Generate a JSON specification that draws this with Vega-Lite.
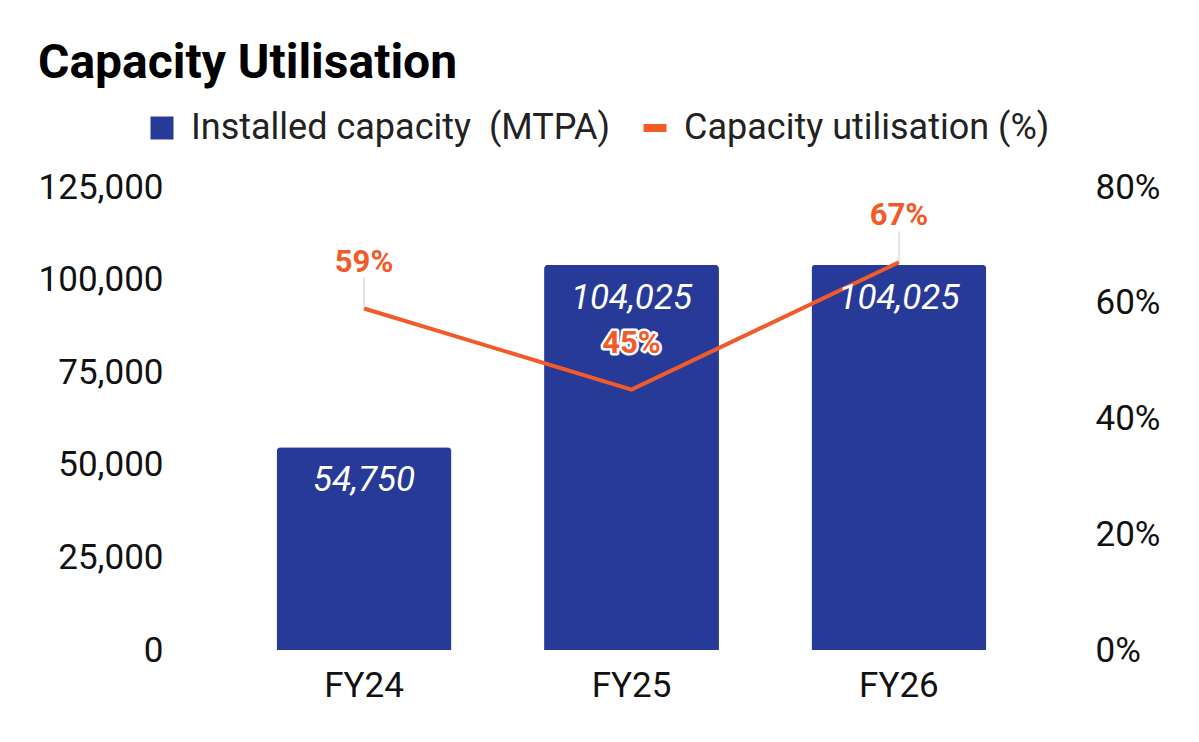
{
  "$schema": "https://vega.github.io/schema/vega-lite/v6.json",
  "width": 913,
  "height": 463,
  "autosize": {"type": "none"},
  "padding": {"left": 175, "top": 187, "right": 111, "bottom": 92},
  "title": {
    "text": "Capacity Utilisation",
    "anchor": "start",
    "frame": "group",
    "dx": -137,
    "offset": 22,
    "font": "Roboto",
    "fontSize": 48,
    "fontWeight": "bold",
    "color": "#000000"
  },
  "data": {
    "values": [
      {"period": "FY24", "capacity": 54750, "util": 0.59},
      {"period": "FY25", "capacity": 104025, "util": 0.45},
      {"period": "FY26", "capacity": 104025, "util": 0.67}
    ]
  },
  "encoding": {
    "x": {
      "field": "period",
      "type": "nominal",
      "sort": null,
      "scale": {"paddingInner": 0.346, "paddingOuter": 0.38},
      "axis": {"title": null, "labelAngle": 0, "labelPadding": 18}
    }
  },
  "layer": [
    {
      "mark": {"type": "rule", "color": "#e4e4e4", "strokeWidth": 2, "y2Offset": -31},
      "encoding": {
        "y": {"field": "util", "type": "quantitative", "scale": {"domain": [0, 0.8], "nice": false}, "axis": null},
        "y2": {"field": "util"}
      }
    },
    {
      "mark": {"type": "bar", "cornerRadiusTopLeft": 4, "cornerRadiusTopRight": 4},
      "encoding": {
        "y": {
          "field": "capacity",
          "type": "quantitative",
          "scale": {"domain": [0, 125000], "nice": false},
          "axis": {"title": null, "values": [0, 25000, 50000, 75000, 100000, 125000], "format": ",.0f", "orient": "left", "labelPadding": 12}
        },
        "color": {
          "datum": "Installed capacity \u00a0(MTPA)",
          "scale": {
            "domain": ["Installed capacity \u00a0(MTPA)", "Capacity utilisation (%)"],
            "range": ["#283a97", "#f15a29"]
          },
          "legend": {
            "title": null,
            "orient": "none",
            "legendX": -31,
            "legendY": -77,
            "direction": "horizontal",
            "symbolType": "square",
            "symbolSize": 529,
            "symbolStrokeWidth": 0,
            "symbolOpacity": 1,
            "labelFont": "Roboto",
            "labelFontSize": 36,
            "labelColor": "#222222",
            "labelOffset": 11,
            "columnPadding": 27,
            "labelLimit": 600,
            "encode": {
              "symbols": {
                "update": {
                  "shape": [
                    {"test": "datum.value === 'Capacity utilisation (%)'", "value": "M-1,-0.35H1V0.35H-1Z"},
                    {"value": "square"}
                  ]
                }
              }
            }
          }
        }
      }
    },
    {
      "mark": {"type": "line", "color": "#f15a29", "strokeWidth": 4},
      "encoding": {
        "y": {
          "field": "util",
          "type": "quantitative",
          "scale": {"domain": [0, 0.8], "nice": false},
          "axis": {"title": null, "values": [0, 0.2, 0.4, 0.6, 0.8], "format": ".0%", "orient": "right", "labelPadding": 7}
        }
      }
    },
    {
      "mark": {"type": "text", "color": "#ffffff", "font": "Roboto", "fontSize": 35, "fontStyle": "italic", "baseline": "middle", "dy": 33},
      "encoding": {
        "y": {"field": "capacity", "type": "quantitative", "scale": {"domain": [0, 125000], "nice": false}, "axis": null},
        "text": {"field": "capacity", "type": "quantitative", "format": ","}
      }
    },
    {
      "mark": {"type": "text", "color": "#ffffff", "stroke": "#ffffff", "strokeWidth": 5, "strokeJoin": "round", "font": "Roboto", "fontSize": 31, "fontWeight": "bold", "baseline": "middle", "dy": -46},
      "encoding": {
        "y": {"field": "util", "type": "quantitative", "scale": {"domain": [0, 0.8], "nice": false}, "axis": null},
        "text": {"field": "util", "type": "quantitative", "format": ".0%"}
      }
    },
    {
      "mark": {"type": "text", "color": "#f15a29", "font": "Roboto", "fontSize": 31, "fontWeight": "bold", "baseline": "middle", "dy": -46},
      "encoding": {
        "y": {"field": "util", "type": "quantitative", "scale": {"domain": [0, 0.8], "nice": false}, "axis": null},
        "text": {"field": "util", "type": "quantitative", "format": ".0%"}
      }
    }
  ],
  "resolve": {"scale": {"y": "independent"}},
  "config": {
    "view": {"stroke": null},
    "axis": {
      "domain": false,
      "ticks": false,
      "tickSize": 0,
      "grid": false,
      "labelFont": "Roboto",
      "labelFontSize": 35,
      "labelColor": "#111111"
    }
  }
}
